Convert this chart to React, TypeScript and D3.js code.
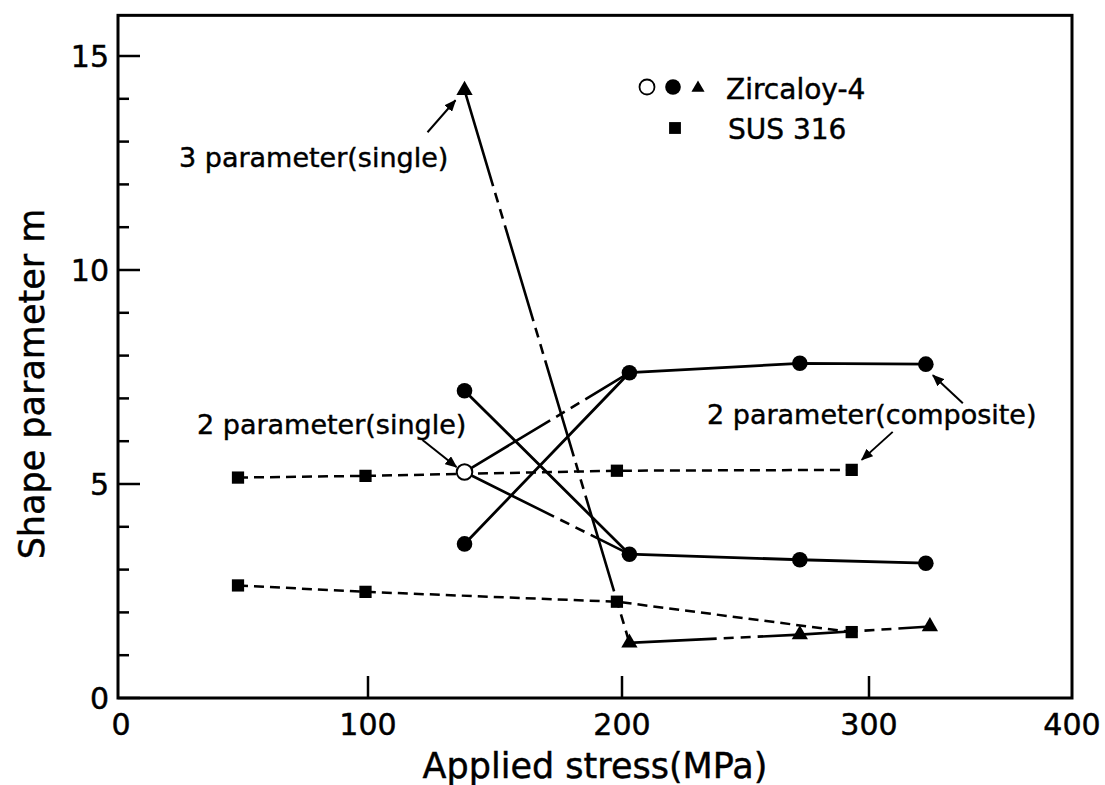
import React from "react";
import * as d3 from "d3";

const WIDTH = 1105;
const HEIGHT = 785;

// Axis ticks
const xTickValues = [0, 100, 200, 300, 400];
const yTickMajor = [0, 5, 10, 15];
const yTickMinor = d3.range(0, 16);

// SUS 316 (squares, dashed)
const susStress = [48, 99, 198, 293];
const susUpper = [5.15, 5.19, 5.31, 5.33];
const susLower = [2.63, 2.48, 2.25, 1.54];

// Zircaloy-4, 2 parameter (composite): filled circles, solid
const zrStress = [138, 203, 272, 328];
const zrRising = [3.6, 7.6, 7.82, 7.8];
const zrFalling = [7.18, 3.36, 3.23, 3.15];

// Zircaloy-4, 2 parameter (single): open circle
const zrSingleStress = 138;
const zrSingle = 5.28;

// Zircaloy-4, 3 parameter (single): triangles, chain line
const zr3Stress = [138, 203, 272, 330];
const zr3Param = [14.2, 1.29, 1.48, 1.67];

const FONT = "'DejaVu Sans', 'Liberation Sans', Arial, sans-serif";
const CHAIN = "100 7 10 7 10 7";
const TEXT_STROKE = { stroke: "#000", strokeWidth: 0.45 };

export default function App() {
  const x = d3
    .scaleLinear()
    .domain(xTickValues)
    .range([118, 368, 622, 869, 1072]);
  const y = d3.scaleLinear().domain([0, 15]).range([698, 56]);
  const yTop = y(15.95);

  const line = d3
    .line<[number, number]>()
    .x((d) => x(d[0]))
    .y((d) => y(d[1]));

  const zip = (xs: number[], ys: number[]) =>
    xs.map((v, i) => [v, ys[i]] as [number, number]);

  const tri = d3.symbol().type(d3.symbolTriangle).size(115)();
  const sq = d3.symbol().type(d3.symbolSquare).size(150)();
  const triSmall = d3.symbol().type(d3.symbolTriangle).size(75)();
  const sqSmall = d3.symbol().type(d3.symbolSquare).size(140)();

  const openX = x(zrSingleStress);
  const openY = y(zrSingle);

  // anchors for the annotation arrows
  const p3 = [x(zr3Stress[0]), y(zr3Param[0])];
  const pComp = [x(zrStress[3]), y(zrRising[3])];
  const pSus = [x(susStress[3]), y(susUpper[3])];

  const arrows: [number, number, number, number][] = [
    [p3[0] - 37, p3[1] + 42, p3[0] - 9, p3[1] + 10],
    [openX - 42, openY - 32, openX - 8, openY - 5],
    [pComp[0] + 37, pComp[1] + 39, pComp[0] + 7, pComp[1] + 11],
    [pSus[0] + 41, pSus[1] - 38, pSus[0] + 10, pSus[1] - 10],
  ];

  return (
    <svg
      width={WIDTH}
      height={HEIGHT}
      style={{ position: "absolute", left: 0, top: 0, background: "#fff" }}
      fontFamily={FONT}
    >
      <defs>
        <marker
          id="head"
          viewBox="0 0 12 10"
          refX="11"
          refY="5"
          markerWidth="12"
          markerHeight="10"
          markerUnits="userSpaceOnUse"
          orient="auto"
        >
          <path d="M0,0 L12,5 L0,10 Z" fill="#000" />
        </marker>
      </defs>
      <rect width={WIDTH} height={HEIGHT} fill="#fff" />

      {/* frame */}
      <rect
        x={x(0)}
        y={yTop}
        width={x(400) - x(0)}
        height={y(0) - yTop}
        fill="none"
        stroke="#000"
        strokeWidth={3}
      />

      {/* y ticks */}
      {yTickMinor.map((v) => (
        <line
          key={"ym" + v}
          x1={x(0)}
          x2={x(0) + (v % 5 === 0 ? 22 : 11)}
          y1={y(v)}
          y2={y(v)}
          stroke="#000"
          strokeWidth={2.5}
        />
      ))}
      {yTickMajor.map((v) => (
        <text
          key={"yl" + v}
          x={109}
          y={y(v) + 11}
          textAnchor="end"
          fontSize={30}
          {...TEXT_STROKE}
        >
          {v}
        </text>
      ))}

      {/* x ticks */}
      {xTickValues.slice(1, 4).map((v) => (
        <line
          key={"xt" + v}
          x1={x(v)}
          x2={x(v)}
          y1={y(0)}
          y2={y(0) - 22}
          stroke="#000"
          strokeWidth={2.5}
        />
      ))}
      {xTickValues.map((v) => (
        <text
          key={"xl" + v}
          x={x(v) + (v === 0 ? 3 : 0)}
          y={735}
          textAnchor="middle"
          fontSize={30}
          {...TEXT_STROKE}
        >
          {v}
        </text>
      ))}

      {/* axis titles */}
      <text x={595} y={778} textAnchor="middle" fontSize={35} {...TEXT_STROKE}>
        Applied stress(MPa)
      </text>
      <text
        transform={`translate(44,384) rotate(-90)`}
        textAnchor="middle"
        fontSize={35}
        {...TEXT_STROKE}
      >
        Shape parameter m
      </text>

      {/* SUS 316 dashed lines */}
      {[susUpper, susLower].map((s, i) => (
        <path
          key={"sus" + i}
          d={line(zip(susStress, s)) || ""}
          fill="none"
          stroke="#000"
          strokeWidth={2.5}
          strokeDasharray="10 6"
        />
      ))}

      {/* 3 parameter chain line */}
      <path
        d={line(zip(zr3Stress, zr3Param)) || ""}
        fill="none"
        stroke="#000"
        strokeWidth={2.6}
        strokeDasharray={CHAIN}
      />

      {/* 2 parameter single chain lines */}
      {[zrRising[1], zrFalling[1]].map((v, i) => (
        <path
          key={"single" + i}
          d={
            line([
              [zrSingleStress, zrSingle],
              [zrStress[1], v],
            ]) || ""
          }
          fill="none"
          stroke="#000"
          strokeWidth={2.6}
          strokeDasharray={CHAIN}
        />
      ))}

      {/* composite solid lines */}
      {[zrRising, zrFalling].map((s, i) => (
        <path
          key={"comp" + i}
          d={line(zip(zrStress, s)) || ""}
          fill="none"
          stroke="#000"
          strokeWidth={2.8}
        />
      ))}

      {/* markers */}
      {[susUpper, susLower].map((s, i) =>
        s.map((v, j) => (
          <path
            key={`sq${i}-${j}`}
            d={sq || ""}
            transform={`translate(${x(susStress[j])},${y(v)})`}
            fill="#000"
          />
        ))
      )}
      {zr3Param.map((v, j) => (
        <path
          key={"tr" + j}
          d={tri || ""}
          transform={`translate(${x(zr3Stress[j])},${y(v)})`}
          fill="#000"
        />
      ))}
      {[zrRising, zrFalling].map((s, i) =>
        s.map((v, j) => (
          <circle
            key={`c${i}-${j}`}
            cx={x(zrStress[j])}
            cy={y(v)}
            r={7.8}
            fill="#000"
          />
        ))
      )}
      <circle
        cx={openX}
        cy={openY}
        r={7.8}
        fill="#fff"
        stroke="#000"
        strokeWidth={2}
      />

      {/* annotations */}
      {arrows.map((a, i) => (
        <line
          key={"ar" + i}
          x1={a[0]}
          y1={a[1]}
          x2={a[2]}
          y2={a[3]}
          stroke="#000"
          strokeWidth={2}
          markerEnd="url(#head)"
        />
      ))}
      <text x={179} y={167} fontSize={27} {...TEXT_STROKE}>
        3 parameter(single)
      </text>
      <text x={197} y={434} fontSize={27} {...TEXT_STROKE}>
        2 parameter(single)
      </text>
      <text x={707} y={424} fontSize={27} {...TEXT_STROKE}>
        2 parameter(composite)
      </text>

      {/* legend */}
      <circle cx={647} cy={87} r={7.5} fill="#fff" stroke="#000" strokeWidth={1.8} />
      <circle cx={673} cy={87} r={7.8} fill="#000" />
      <path d={triSmall || ""} transform="translate(698,88)" fill="#000" />
      <text x={726} y={99} fontSize={28} {...TEXT_STROKE}>
        Zircaloy-4
      </text>
      <path d={sqSmall || ""} transform="translate(675,128)" fill="#000" />
      <text x={728} y={139} fontSize={28} {...TEXT_STROKE}>
        SUS 316
      </text>
    </svg>
  );
}
